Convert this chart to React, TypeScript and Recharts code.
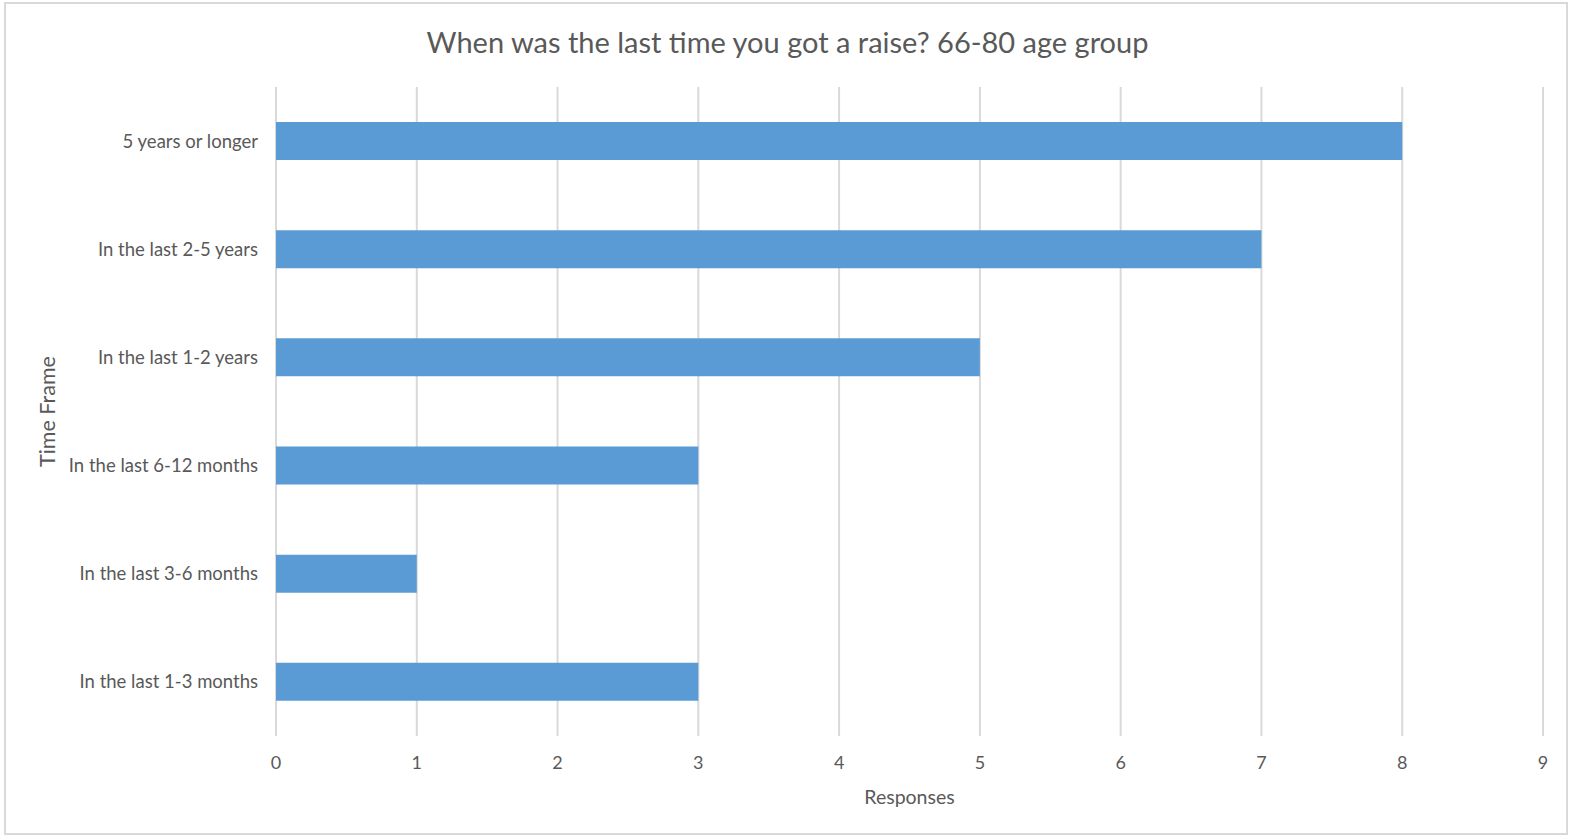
import React from 'react';
import { BarChart, Bar, XAxis, YAxis, CartesianGrid, Label } from 'recharts';

const timeFrames = [
  '5 years or longer',
  'In the last 2-5 years',
  'In the last 1-2 years',
  'In the last 6-12 months',
  'In the last 3-6 months',
  'In the last 1-3 months',
];
const responses = [8, 7, 5, 3, 1, 3];
const xTicks = [0, 1, 2, 3, 4, 5, 6, 7, 8, 9];

const data = timeFrames.map((name, i) => ({ name, responses: responses[i] }));

const FONT = 'Lato, "Open Sans", sans-serif';
const TEXT = '#595959';
const GRID = '#d9d9d9';

export default function App() {
  return (
    <div style={{ position: 'absolute', left: 0, top: 0, width: 1575, height: 840, background: '#fff', fontFamily: FONT }}>
      <div
        style={{
          position: 'absolute',
          left: 4,
          top: 2,
          width: 1564,
          height: 833,
          border: `2px solid ${GRID}`,
          boxSizing: 'border-box',
        }}
      />
      <div
        style={{
          position: 'absolute',
          left: 0,
          top: 23,
          width: 1575,
          textAlign: 'center',
          fontSize: 29,
          color: TEXT,
          lineHeight: '38px',
        }}
      >
        When was the last time you got a raise? 66-80 age group
      </div>
      <div style={{ position: 'absolute', left: 0, top: 0 }}>
        <BarChart
          width={1575}
          height={840}
          data={data}
          layout="vertical"
          margin={{ top: 87, right: 32, bottom: 0, left: 0 }}
          barSize={38}
        >
          <CartesianGrid horizontal={false} stroke={GRID} strokeWidth={2} />
          <XAxis
            type="number"
            domain={[0, 9]}
            ticks={xTicks}
            interval={0}
            axisLine={false}
            tickLine={false}
            tickSize={0}
            tickMargin={20}
            height={104}
            tick={{ fill: TEXT, fontSize: 18, fontFamily: FONT }}
          >
            <Label value="Responses" position="insideTop" offset={54} fill={TEXT} fontSize={19.5} fontFamily={FONT} />
          </XAxis>
          <YAxis
            type="category"
            dataKey="name"
            width={276}
            axisLine={false}
            tickLine={false}
            tickSize={6}
            tickMargin={12}
            interval={0}
            tick={{ fill: TEXT, fontSize: 18.5, fontFamily: FONT }}
          >
            <Label
              value="Time Frame"
              angle={-90}
              position="insideLeft"
              offset={47}
              fill={TEXT}
              fontSize={21.5}
              fontFamily={FONT}
              style={{ textAnchor: 'middle' }}
            />
          </YAxis>
          <Bar dataKey="responses" fill="#5b9bd5" isAnimationActive={false} />
        </BarChart>
      </div>
    </div>
  );
}
